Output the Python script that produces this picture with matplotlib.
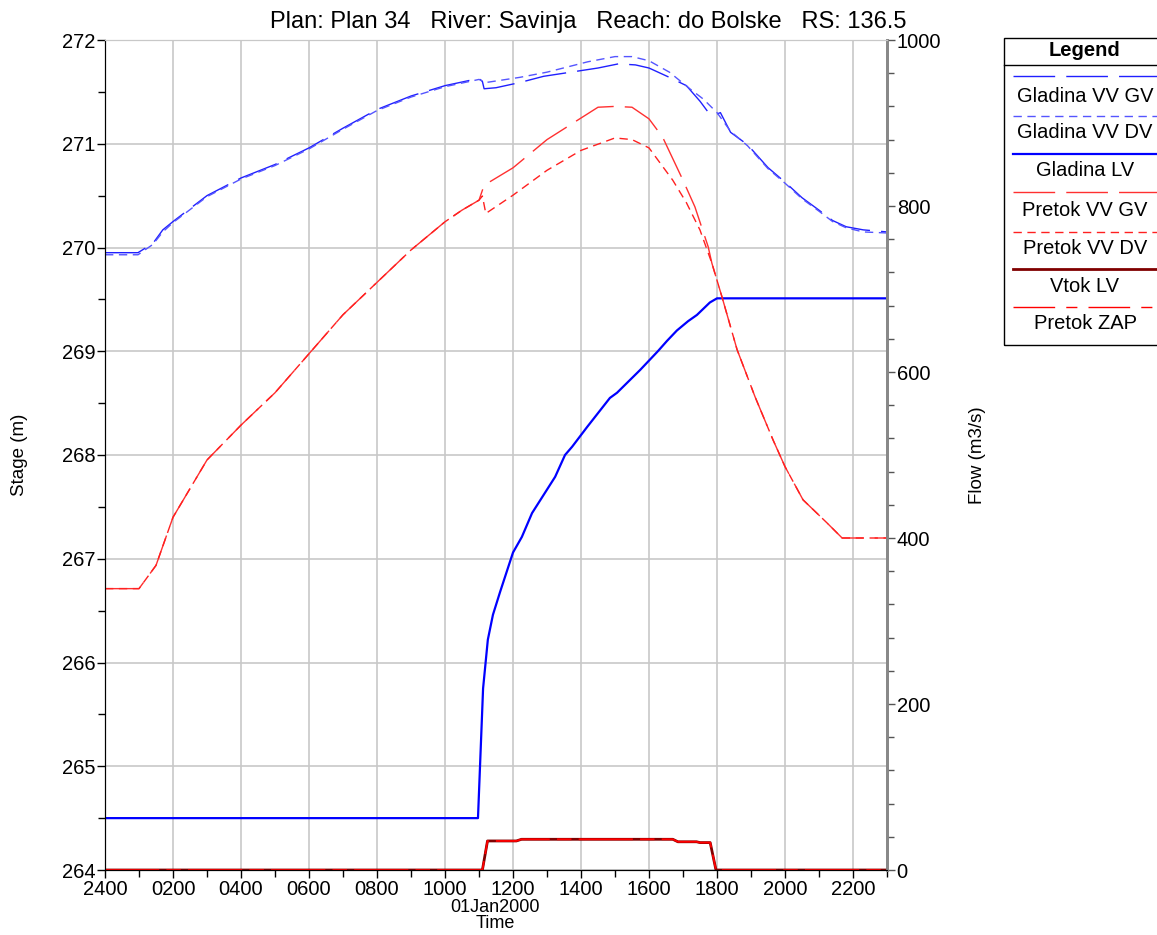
"""
HEC-RAS style stage / flow hydrograph, RS 136.5 on Savinja.
"""
import matplotlib
matplotlib.use("Agg")
import matplotlib.pyplot as plt
from matplotlib.lines import Line2D
from matplotlib.patches import Rectangle
from matplotlib.ticker import MultipleLocator

plt.rcParams['font.family'] = ['Liberation Sans', 'DejaVu Sans']

# ---- data (time in hours from 2400 31Dec1999) ----
t_gl_gv = [0, 0.97, 1.41, 1.7, 2, 3, 4, 5, 6, 7, 8, 9, 10, 11, 11.1, 11.15, 11.5, 12.2,
           12.9, 13.7, 14.5, 15.1, 15.6, 16.0, 16.6, 17.1, 17.5, 17.75, 17.95, 18.1, 18.4,
           18.9, 19.5, 20.0, 20.5, 21.0, 21.4, 21.8, 22.3, 23]
gl_vv_gv = [269.95, 269.95, 270.04, 270.17, 270.25, 270.5, 270.67, 270.8, 270.96, 271.15,
            271.33, 271.46, 271.56, 271.63, 271.6, 271.53, 271.54, 271.59, 271.65, 271.69,
            271.73, 271.77, 271.76, 271.73, 271.64, 271.56, 271.41, 271.3, 271.28, 271.3,
            271.11, 270.99, 270.77, 270.63, 270.48, 270.36, 270.26, 270.2, 270.17, 270.15]

t_gl_dv = [0, 0.97, 1.41, 1.7, 2, 3, 4, 5, 6, 7, 8, 9, 10, 11, 11.2, 12.2, 13.0, 14.2,
           15.0, 15.5, 16.0, 16.6, 17.2, 17.6, 18.0, 18.4, 18.9, 19.5, 20.0, 20.5, 21.0,
           21.4, 21.8, 22.3, 23]
gl_vv_dv = [269.93, 269.93, 270.03, 270.15, 270.24, 270.49, 270.66, 270.79, 270.95, 271.14,
            271.32, 271.45, 271.55, 271.62, 271.59, 271.64, 271.69, 271.79, 271.84, 271.84,
            271.8, 271.69, 271.53, 271.43, 271.3, 271.12, 270.98, 270.76, 270.62, 270.47,
            270.35, 270.25, 270.19, 270.15, 270.14]

t_gl_lv = [0, 10.97, 11.12, 11.26, 11.41, 11.62, 12.0, 12.26, 12.56, 13.24, 13.53, 13.74,
           14.18, 14.85, 15.06, 15.74, 16.26, 16.53, 16.82, 17.15, 17.41, 17.79, 18.0, 23]
gl_lv = [264.5, 264.5, 265.75, 266.22, 266.46, 266.68, 267.06, 267.21, 267.44, 267.79,
         268.0, 268.08, 268.27, 268.55, 268.6, 268.82, 269.0, 269.1, 269.2, 269.29, 269.35,
         269.47, 269.51, 269.51]

t_q_gv = [0, 1, 1.5, 2, 3, 4, 5, 6, 7, 8, 9, 10, 10.5, 11, 11.15, 12, 13, 14, 14.5, 15,
          15.5, 16, 16.4, 17.0, 17.35, 17.74, 17.85, 18.15, 18.59, 19.12, 19.65, 20.0,
          20.53, 21.24, 21.68, 23]
q_vv_gv = [339, 339, 367, 425, 494, 536, 575, 622, 669, 708, 747, 781, 795, 807, 825, 846,
           880, 906, 919, 920, 919, 905, 883, 831, 799, 751, 731, 690, 627, 570, 518, 486,
           446, 418, 400, 400]

t_q_dv = [0, 1, 1.5, 2, 3, 4, 5, 6, 7, 8, 9, 10, 10.5, 11, 11.1, 11.2, 12, 13, 14, 15,
          15.5, 16, 16.7, 17.1, 17.5, 17.85, 18.15, 18.59, 19.12, 19.65, 20.0, 20.53, 21.24,
          21.68, 23]
q_vv_dv = [339, 339, 367, 425, 494, 536, 575, 622, 669, 708, 747, 781, 795, 807, 812, 791,
           813, 843, 867, 882, 880, 870, 831, 804, 771, 731, 690, 627, 570, 518, 486, 446,
           418, 400, 400]

t_vtok = [0, 11.1, 11.25, 12.1, 12.25, 16.7, 16.85, 17.4, 17.5, 17.8, 17.97, 23]
vtok_lv = [0, 0, 35, 35, 37, 37, 34, 34, 33, 33, 0, 0]
pretok_zap = vtok_lv

x_ticks = list(range(0, 23, 2))
x_labels = ['2400' if h == 0 else f'{h:02d}00' for h in x_ticks]

# ---- figure ----
fig = plt.figure(figsize=(11.57, 9.35), dpi=100)
W, H = 1157, 935
ax = fig.add_axes([105 / W, 1 - 870 / H, (887 - 105) / W, (870 - 40) / H])
ax2 = ax.twinx()

fs = 14.5
grid_c = '#c8c8c8'

ax.set_xlim(0, 23)
ax.set_ylim(264, 272)
ax2.set_ylim(0, 1000)

ax.set_xticks(x_ticks)
ax.set_xticklabels(x_labels, fontsize=fs)
ax.xaxis.set_minor_locator(MultipleLocator(1))
ax.yaxis.set_major_locator(MultipleLocator(1))
ax.yaxis.set_minor_locator(MultipleLocator(0.5))
ax.tick_params(axis='both', which='major', length=6, width=1, labelsize=fs, pad=1)
ax.tick_params(axis='both', which='minor', length=5, width=1)
ax.grid(True, which='major', color=grid_c, linewidth=1.2)
ax.set_axisbelow(True)

ax2.yaxis.set_major_locator(MultipleLocator(200))
ax2.yaxis.set_minor_locator(MultipleLocator(40))
ax2.tick_params(axis='y', which='major', length=6, width=1, labelsize=fs, pad=1,
                color='#555555')
ax2.tick_params(axis='y', which='minor', length=5, width=1, color='#555555')

for a in (ax, ax2):
    a.spines['top'].set_color(grid_c)
    a.spines['right'].set_color('#888888')
    a.spines['right'].set_linewidth(2)
    a.spines['left'].set_color('black')
    a.spines['bottom'].set_color('black')

# stage lines (left axis)
c_gv = '#2020ff'
c_dv = '#5555ff'
ax.plot(t_gl_gv, gl_vv_gv, color=c_gv, lw=1, dashes=(30, 8))
ax.plot(t_gl_dv, gl_vv_dv, color=c_dv, lw=1, dashes=(6, 4))
ax.plot(t_gl_lv, gl_lv, color='#0000ff', lw=1.6)

# flow lines (right axis)
ax2.plot(t_q_gv, q_vv_gv, color='#ff3030', lw=1, dashes=(30, 8))
ax2.plot(t_q_dv, q_vv_dv, color='#ff2020', lw=1, dashes=(6, 4))
ax2.plot(t_vtok, vtok_lv, color='#800000', lw=2)
ax2.plot(t_vtok, pretok_zap, color='#ff0000', lw=1.3, dashes=(30, 4, 8, 4))

# titles and labels
fig.text(588 / W, 1 - 22 / H,
         'Plan: Plan 34   River: Savinja   Reach: do Bolske   RS: 136.5',
         ha='center', va='center', fontsize=17)
fig.text(20 / W, 1 - 455 / H, 'Stage (m)', rotation=90, ha='center', va='center',
         fontsize=13.5)
fig.text(978 / W, 1 - 455 / H, 'Flow (m3/s)', rotation=90, ha='center', va='center',
         fontsize=13.5)
fig.text(495 / W, 1 - 908 / H, '01Jan2000', ha='center', va='center', fontsize=13)
fig.text(495 / W, 1 - 924 / H, 'Time', ha='center', va='center', fontsize=13)

# legend box drawn by hand (runs off the right edge like the original)
lx0, lx1 = 1004, 1166
ly0, ly1 = 38, 345
fig.add_artist(Rectangle((lx0 / W, 1 - ly1 / H), (lx1 - lx0) / W, (ly1 - ly0) / H,
                         transform=fig.transFigure, fill=False, edgecolor='black',
                         linewidth=1))
fig.text((lx0 + lx1) / 2 / W, 1 - 51 / H, 'Legend', ha='center', va='center',
         fontsize=14.5, fontweight='bold')
fig.add_artist(Line2D([lx0 / W, lx1 / W], [1 - 65 / H, 1 - 65 / H],
                      transform=fig.transFigure, color='black', lw=1))

legend_items = [
    ('Gladina VV GV', c_gv, 1, (30, 8)),
    ('Gladina VV DV', c_dv, 1, (6, 4)),
    ('Gladina LV', '#0000ff', 1.6, None),
    ('Pretok VV GV', '#ff3030', 1, (30, 8)),
    ('Pretok VV DV', '#ff2020', 1, (6, 4)),
    ('Vtok LV', '#800000', 2, None),
    ('Pretok ZAP', '#ff0000', 1, (30, 8, 8, 8)),
]
sample_y = [76, 116, 154, 192, 232, 269, 307]
label_y = [96, 132, 170, 210, 248, 286, 324]
for (lab, col, lw, dsh), sy, ty in zip(legend_items, sample_y, label_y):
    ln = Line2D([1013 / W, 1175 / W], [1 - sy / H, 1 - sy / H],
                transform=fig.transFigure, color=col, lw=lw)
    if dsh is not None:
        ln.set_dashes(dsh)
    fig.add_artist(ln)
    fig.text(1085 / W, 1 - ty / H, lab, ha='center', va='center', fontsize=14.5)

plt.savefig('out.png', dpi=100)
plt.close()
